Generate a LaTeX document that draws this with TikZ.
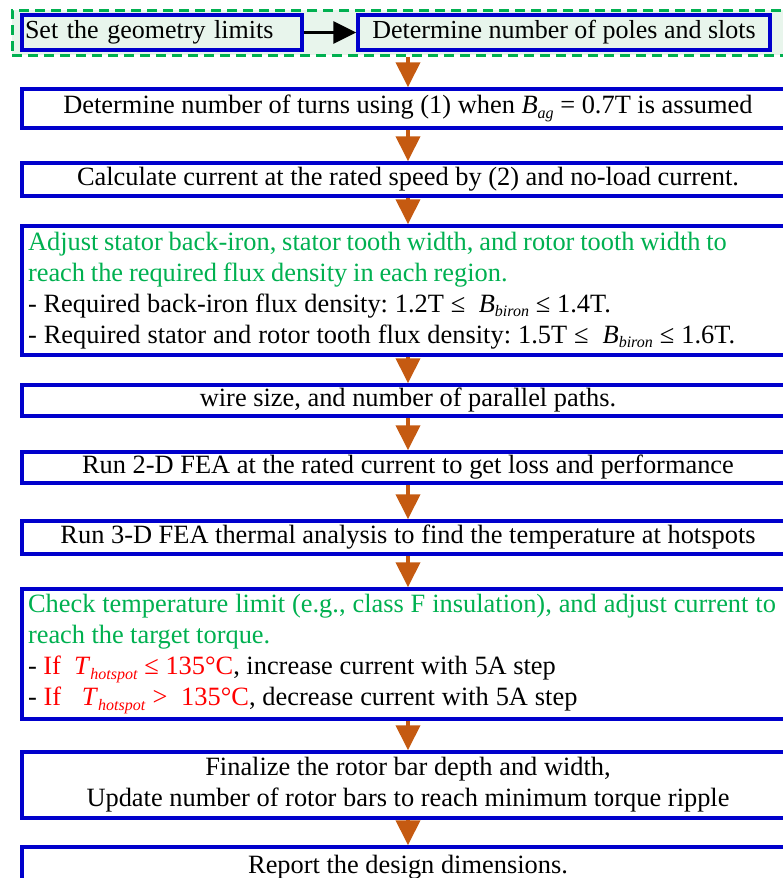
\documentclass[tikz,border=0pt]{standalone}
\usepackage{fontspec}
\setmainfont{Liberation Serif}
\usetikzlibrary{arrows.meta}
\definecolor{bblue}{RGB}{0,0,204}
\definecolor{ogreen}{RGB}{0,176,80}
\definecolor{lgreen}{RGB}{232,245,236}
\definecolor{oarrow}{RGB}{197,90,17}
\newcommand{\lsub}[1]{\raisebox{-0.35ex}{\fontsize{16}{16}\selectfont\textit{#1}}}
\newcommand{\wsp}[1]{\spaceskip=#1 plus 1pt minus 0.5pt\relax}
\begin{document}
\begin{tikzpicture}[x=1pt,y=-1pt,
  box/.style={draw=bblue, line width=3.5pt, minimum width=772pt, inner sep=0pt,
    font=\fontsize{26.4}{31}\selectfont, align=center},
  tbox/.style={box, text width=760pt, align=left},
  flow/.style={draw=oarrow, line width=4pt, -{Triangle[width=24pt,length=25pt]}},
  grpbox/.style={draw=ogreen, fill=lgreen, line width=3pt, dash pattern=on 10pt off 6pt, minimum width=778pt, minimum height=45pt, inner sep=0pt},
  topbox/.style={draw=bblue, fill=lgreen, line width=3.5pt, minimum height=35pt, inner sep=0pt,
    font=\fontsize{26}{31}\selectfont}]
\useasboundingbox (0,0) rectangle (782,878);
\node[grpbox] (grp) at (401,32.5) {};
\node[topbox, minimum width=280pt, text width=274pt, align=left] (b1) at (162,32.5) {Set the geometry limits};
\node[topbox, minimum width=412pt] (b2) at (564,32.5) {Determine number of poles and slots};
\draw[line width=3pt, -{Triangle[width=22pt,length=23pt]}] (b1.east) -- (b2.west);

\node[box, minimum height=39pt] (turns) at (408,108.5) {Determine number of turns using (1) when \textit{B}\lsub{ag} = 0.7T is assumed};
\node[box, minimum height=33pt] (calc) at (408,179.5) {Calculate current at the rated speed by (2) and no-load current.};
\node[tbox, minimum height=129pt] (adj) at (408,290.5) {\frenchspacing
{\wsp{5.8pt}\textcolor{ogreen}{Adjust stator back-iron, stator tooth width, and rotor tooth width to}}\\
{\wsp{5.8pt}\textcolor{ogreen}{reach the required flux density in each region.}}\\
{\wsp{6.8pt}- Required back-iron flux density: 1.2T ≤ \ \textit{B}\lsub{biron} ≤ 1.4T.}\\
{\wsp{7pt}- Required stator and rotor tooth flux density: 1.5T ≤ \ \textit{B}\lsub{biron} ≤ 1.6T.}};
\node[box, minimum height=31pt] (wire) at (408,400.5) {wire size, and number of parallel paths.};
\node[box, minimum height=31pt] (run2) at (408,467.5) {Run 2-D FEA at the rated current to get loss and performance};
\node[box, minimum height=33pt] (run3) at (408,537.5) {Run 3-D FEA thermal analysis to find the temperature at hotspots};
\node[tbox, minimum height=130pt] (chk) at (408,654) {\frenchspacing
{\wsp{6.9pt}\textcolor{ogreen}{Check temperature limit (e.g., class F insulation), and adjust current to}}\\
{\wsp{6.4pt}\textcolor{ogreen}{reach the target torque.}}\\
{\wsp{6.6pt}- \textcolor{red}{If \ \textit{T}\lsub{hotspot} ≤ 135°C}, increase current with 5A step}\\
{\wsp{6.9pt}- \textcolor{red}{If \ \ \textit{T}\lsub{hotspot} > \ 135°C}, decrease current with 5A step}};
\node[box, minimum height=66pt] (fin) at (408,785) {Finalize the rotor bar depth and width,\\Update number of rotor bars to reach minimum torque ripple};
\node[box, minimum height=40pt] (rep) at (408,867) {Report the design dimensions.};

\draw[flow] (turns.north |- grp.south) -- (turns.north);
\draw[flow] (turns.south) -- (calc.north);
\draw[flow] (calc.south) -- (adj.north);
\draw[flow] (adj.south) -- (wire.north);
\draw[flow] (wire.south) -- (run2.north);
\draw[flow] (run2.south) -- (run3.north);
\draw[flow] (run3.south) -- (chk.north);
\draw[flow] (chk.south) -- (fin.north);
\draw[flow] (fin.south) -- (rep.north);
\end{tikzpicture}
\end{document}
